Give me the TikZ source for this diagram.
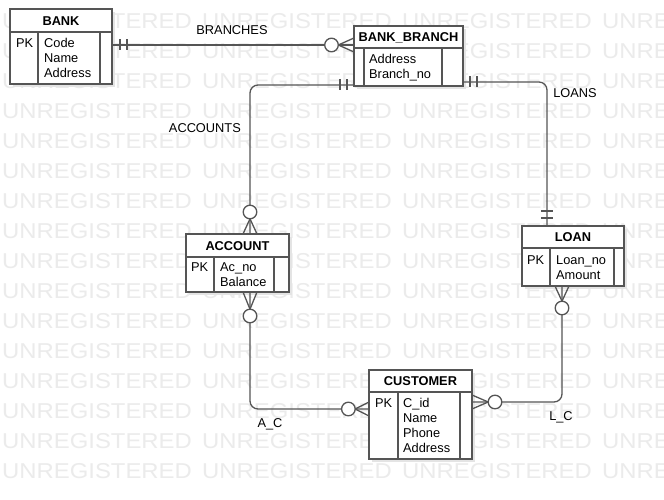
\documentclass[tikz,border=0pt]{standalone}
\usepackage{fontspec}
\setmainfont{Liberation Sans}
\usetikzlibrary{calc}
\definecolor{linec}{HTML}{555555}
\definecolor{wmc}{HTML}{EBEBEB}
\definecolor{shc}{HTML}{E4E4E4}
\tikzset{
  conn/.style={draw=linec, line width=1.3pt},
  erframe/.style={draw=linec, line width=1.3pt, fill=white, inner sep=0pt, outer sep=0pt},
  divline/.style={draw=linec, line width=1.3pt},
  ttl/.style={font=\fontsize{12.8}{15}\selectfont\bfseries, inner sep=0pt, anchor=base},
  attr/.style={font=\fontsize{12.8}{15}\selectfont, inner sep=0pt, anchor=base west},
  lbl/.style={font=\fontsize{12.8}{15}\selectfont, inner sep=0pt, anchor=base},
  wm/.style={font=\fontsize{21.5}{22}\selectfont, text=wmc, inner sep=0pt, anchor=base west},
  zc/.style={draw=linec, line width=1.3pt, fill=white},
}
% #1 name, #2 x, #3 y, #4 w, #5 h, #6 header h, #7 pk col w, #8 right col w, #9 title
\newcommand{\erbox}[9]{%
  \fill[shc] (#2+3,#3+3) rectangle ++(#4,#5);
  \node[erframe, minimum width=#4pt, minimum height=#5pt, anchor=north west] (#1) at (#2,#3) {};
  \draw[divline] ($(#1.north west)+(0,#6)$) -- ($(#1.north east)+(0,#6)$);
  \draw[divline] ($(#1.north west)+(#7,#6)$) -- ($(#1.south west)+(#7,0)$);
  \draw[divline] ($(#1.north east)+(-#8,#6)$) -- ($(#1.south east)+(-#8,0)$);
  \node[ttl] (#1-title) at ($(#1.north)+(0,#6/2+4.6)$) {#9};
}
\begin{document}
\begin{tikzpicture}[x=1pt,y=-1pt]
\useasboundingbox (0,0) rectangle (664,500);
\fill[white] (0,0) rectangle (664,500);
\clip (0,0) rectangle (664,500);
% watermark
\foreach \r in {0,...,15}{\foreach \c in {0,...,3}{%
  \node[wm] (wm-\r-\c) at ({2+200*\c},{28.7+30*\r}) {\scalebox{1.11}[1]{UNREGISTERED}};}}

% entities
\erbox{bank}{10}{9}{102}{75}{23}{28}{12}{BANK}
\node[attr] (bank-pk) at (16,48) {PK};
\node[attr] (bank-a1) at (44,48) {Code};
\node[attr] (bank-a2) at (44,63) {Name};
\node[attr] (bank-a3) at (44,78) {Address};

\erbox{bb}{354}{26}{109}{60}{22}{10}{21}{BANK\_BRANCH}
\node[attr] (bb-a1) at (369,64) {Address};
\node[attr] (bb-a2) at (369,79) {Branch\_no};

\erbox{acc}{186}{234}{103}{58}{23}{28}{15}{ACCOUNT}
\node[attr] (acc-pk) at (191,271.5) {PK};
\node[attr] (acc-a1) at (220,271.5) {Ac\_no};
\node[attr] (acc-a2) at (220,286.5) {Balance};

\erbox{loan}{522}{226}{102}{60}{22}{28}{10}{LOAN}
\node[attr] (loan-pk) at (527,264.5) {PK};
\node[attr] (loan-a1) at (556,264.5) {Loan\_no};
\node[attr] (loan-a2) at (556,279.5) {Amount};

\erbox{cust}{369}{370}{103}{89}{22}{29}{12}{CUSTOMER}
\node[attr] (cust-pk) at (375,407.5) {PK};
\node[attr] (cust-a1) at (403,407.5) {C\_id};
\node[attr] (cust-a2) at (403,422.5) {Name};
\node[attr] (cust-a3) at (403,437.5) {Phone};
\node[attr] (cust-a4) at (403,452.5) {Address};

% connectors
\draw[conn] (bank.east |- 0,45) -- (bb.west |- 0,45);
\draw[conn, rounded corners=8pt] (bb.west |- 0,85) -| (250,0 |- acc.north);
\draw[conn, rounded corners=8pt] (bb.east |- 0,82) -| (547,0 |- loan.north);
\draw[conn, rounded corners=8pt] (250,0 |- acc.south) |- (cust.west |- 0,409);
\draw[conn, rounded corners=8pt] (cust.east |- 0,402) -| (562,0 |- loan.south);

% BRANCHES ends
\draw[conn] (120,39.5) -- (120,50.5) (127,39.5) -- (127,50.5);
\draw[conn] (354,38) -- (338.3,45) -- (354,52);
\draw[zc] (331.5,45) circle[radius=6.8pt];
% ACCOUNTS ends
\draw[conn] (340,79.5) -- (340,90.5) (347,79.5) -- (347,90.5);
\draw[conn] (243,234) -- (250,218.8) -- (257,234);
\draw[zc] (250,212) circle[radius=6.8pt];
% LOANS ends
\draw[conn] (470,76.5) -- (470,87.5) (477,76.5) -- (477,87.5);
\draw[conn] (541,211) -- (553,211) (541,218) -- (553,218);
% A_C ends
\draw[conn] (243,292) -- (250,309.2) -- (257,292);
\draw[zc] (250,316) circle[radius=6.8pt];
\draw[conn] (369,402) -- (355.2,409) -- (369,416);
\draw[zc] (348.4,409) circle[radius=6.8pt];
% L_C ends
\draw[conn] (472,395) -- (488.2,402) -- (472,409);
\draw[zc] (495,402) circle[radius=6.8pt];
\draw[conn] (555,286) -- (562,301.2) -- (569,286);
\draw[zc] (562,308) circle[radius=6.8pt];

% labels
\node[lbl] (l-branches) at (232,35) {BRANCHES};
\node[lbl, anchor=base east] (l-accounts) at (241,132) {ACCOUNTS};
\node[lbl] (l-loans) at (575,98) {LOANS};
\node[lbl] (l-ac) at (270,427.5) {A\_C};
\node[lbl] (l-lc) at (561,420) {L\_C};
\end{tikzpicture}
\end{document}
